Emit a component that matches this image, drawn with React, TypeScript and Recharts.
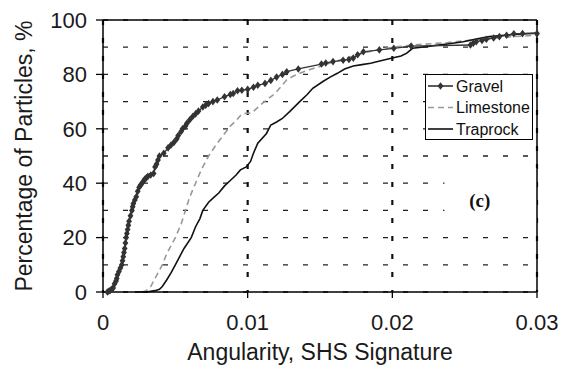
import { LineChart, Line, XAxis, YAxis, CartesianGrid, ReferenceLine, ReferenceArea, Legend } from 'recharts';

// x = SHS signature, y = cumulative percentage of particles
const xTicks = [0, 0.01, 0.02, 0.03];
const yTicks = [0, 10, 20, 30, 40, 50, 60, 70, 80, 90, 100];

const gravel: [number, number][] = [
  [0.0003, 0], [0.0004, 0.3], [0.0005, 0.6], [0.0006, 1], [0.0007, 1.5], [0.0008, 3], [0.0009, 4],
  [0.00095, 5], [0.001, 6.3], [0.0011, 7.5], [0.0012, 8.8], [0.0013, 10], [0.00135, 11.5], [0.0014, 13],
  [0.00145, 14.5], [0.0015, 16], [0.00155, 18], [0.0016, 20], [0.00165, 21.5], [0.0017, 23],
  [0.00175, 24.5], [0.0018, 26], [0.0019, 28], [0.002, 30], [0.00205, 31.3], [0.0021, 32.5],
  [0.0022, 33.8], [0.0023, 35], [0.0024, 37], [0.0025, 38.5], [0.0026, 39.3], [0.0027, 40],
  [0.0028, 40.8], [0.0029, 41.5], [0.003, 42], [0.0031, 42.5], [0.0033, 43], [0.0035, 43.6],
  [0.0036, 46], [0.0037, 47], [0.0038, 48.5], [0.0039, 50], [0.0042, 51], [0.0045, 53], [0.0047, 54],
  [0.0049, 55], [0.0051, 56.3], [0.0052, 57.5], [0.0054, 59], [0.0055, 60], [0.0057, 61], [0.0058, 62],
  [0.006, 63.3], [0.0062, 64.5], [0.0064, 65.5], [0.0066, 66.5], [0.0069, 68], [0.0071, 68.7],
  [0.0073, 69.3], [0.0076, 70], [0.0079, 70.6], [0.0084, 71.8], [0.0088, 72.6], [0.009, 73],
  [0.0093, 74], [0.0096, 74.2], [0.01, 74.5], [0.0104, 75.3], [0.0107, 76], [0.0112, 76.7],
  [0.0116, 77.8], [0.012, 79], [0.0124, 80], [0.0127, 81], [0.0135, 82], [0.0151, 83.8],
  [0.0154, 84.2], [0.0159, 84.7], [0.0166, 85.2], [0.017, 85.5], [0.0173, 86], [0.0176, 87.2],
  [0.018, 88.3], [0.0191, 89], [0.0201, 89.6], [0.0213, 90.4], [0.0254, 90.8], [0.0256, 91.5],
  [0.0258, 92], [0.0262, 92.5], [0.0265, 92.9], [0.027, 93.4], [0.0274, 93.9], [0.0279, 94.4],
  [0.0284, 94.9], [0.029, 95], [0.03, 95],
];

const limestone: [number, number][] = [
  [0.0027, 0], [0.003, 0.5], [0.0033, 2], [0.0036, 5], [0.0039, 8], [0.0041, 10], [0.0044, 14],
  [0.0047, 17], [0.005, 20], [0.0054, 25], [0.0057, 30], [0.006, 35], [0.0064, 40], [0.0068, 45],
  [0.0073, 50], [0.0078, 54], [0.0083, 57.5], [0.0088, 61], [0.0092, 63], [0.0096, 65.5],
  [0.0103, 65.9], [0.0109, 68.8], [0.0114, 71], [0.0119, 73], [0.0123, 75.5], [0.0127, 78],
  [0.0132, 79.5], [0.0136, 80.4], [0.0143, 81.8], [0.015, 82.9], [0.0157, 84.2], [0.0164, 85.3],
  [0.0175, 87], [0.0183, 88.2], [0.0191, 89.2], [0.0202, 90.1], [0.0214, 90.8], [0.0238, 91.7],
  [0.026, 92.9], [0.0284, 93.9], [0.03, 94.4],
];

const traprock: [number, number][] = [
  [0.0022, 0], [0.0031, 0.1], [0.0036, 0.5], [0.0039, 1], [0.0041, 2], [0.0044, 4.4], [0.0047, 7],
  [0.005, 10], [0.0053, 13], [0.0056, 16], [0.0061, 20], [0.0064, 24], [0.0067, 27], [0.0069, 30],
  [0.0073, 33], [0.0077, 35], [0.008, 36.4], [0.0084, 39], [0.0088, 41], [0.0092, 43], [0.0095, 44.9],
  [0.0099, 46], [0.0102, 48], [0.0104, 51], [0.0107, 54.7], [0.0113, 58.3], [0.0116, 61.4],
  [0.012, 62.5], [0.0124, 63.8], [0.0129, 66.3], [0.0136, 70], [0.0141, 72.5], [0.0145, 74.9],
  [0.0152, 77.4], [0.0157, 79], [0.0162, 80.4], [0.0167, 82], [0.0173, 83.1], [0.0179, 83.6],
  [0.0185, 84.1], [0.0192, 85], [0.02, 86], [0.0206, 86.8], [0.021, 87.8], [0.0214, 89.6],
  [0.0226, 90.4], [0.0238, 91.2], [0.0249, 92], [0.0258, 93], [0.0267, 93.9], [0.0284, 94.7],
  [0.0292, 95], [0.03, 95.2],
];

const seriesNames = ['Gravel', 'Limestone', 'Traprock'];

const toPoints = (rows: [number, number][]) => rows.map(([sig, pct]) => ({ sig, pct }));

const FONT = '"Liberation Sans", Arial, Helvetica, sans-serif';

const diamondPath = (cx: number, cy: number) =>
  `M${cx},${cy - 3.8}L${cx + 2.9},${cy}L${cx},${cy + 3.8}L${cx - 2.9},${cy}Z`;

function GravelDot(props: any) {
  const { cx, cy, index } = props;
  if (cx == null || cy == null) return <g key={`gd-${index}`} />;
  return <path key={`gd-${index}`} d={diamondPath(cx, cy)} fill="#333" />;
}

function LegendBox() {
  const rows = [
    { name: seriesNames[0], stroke: '#333', dash: undefined, marker: true },
    { name: seriesNames[1], stroke: '#999', dash: '6 4', marker: false },
    { name: seriesNames[2], stroke: '#111', dash: undefined, marker: false },
  ];
  return (
    <svg width={108} height={66} style={{ display: 'block' }}>
      <rect x={0.5} y={0.5} width={107} height={65} fill="#fff" stroke="#000" />
      {rows.map((r, i) => {
        const y = 12 + i * 21.5;
        return (
          <g key={r.name}>
            <line x1={3} x2={28} y1={y} y2={y} stroke={r.stroke} strokeWidth={1.6} strokeDasharray={r.dash} />
            {r.marker && <path d={diamondPath(15.5, y)} fill="#333" />}
            <text x={31} y={y + 5.5} fontFamily={FONT} fontSize={16} fill="#111">
              {r.name}
            </text>
          </g>
        );
      })}
    </svg>
  );
}

const axisTick = { fill: '#1a1a1a', fontFamily: FONT, fontSize: 22 };
const titleStyle = { fill: '#1a1a1a', fontFamily: FONT, fontSize: 23 };

export default function App() {
  return (
    <div style={{ position: 'absolute', left: 0, top: 0, background: '#fff' }}>
      <LineChart width={573} height={371} margin={{ top: 20, right: 36, left: 0, bottom: 0 }}>
        <CartesianGrid horizontal vertical={false} stroke="#222" strokeWidth={1.3} strokeDasharray="5 15" />
        <CartesianGrid horizontal={false} vertical stroke="#111" strokeWidth={2.2} strokeDasharray="5 13" />
        <XAxis
          dataKey="sig"
          type="number"
          domain={[0, 0.03]}
          ticks={xTicks}
          tickFormatter={(v: number) => (v === 0 ? '0' : String(v))}
          height={79}
          tickSize={6}
          tickMargin={16}
          axisLine={{ stroke: '#000', strokeWidth: 1.5 }}
          tickLine={{ stroke: '#000', strokeWidth: 1.3 }}
          tick={axisTick}
          label={{ value: 'Angularity, SHS Signature', position: 'insideBottom', offset: 11, style: titleStyle }}
        />
        <YAxis
          dataKey="pct"
          type="number"
          domain={[0, 100]}
          ticks={yTicks}
          width={103}
          tickSize={7}
          tickMargin={9}
          axisLine={{ stroke: '#000', strokeWidth: 1.5 }}
          tickLine={{ stroke: '#000', strokeWidth: 1.3 }}
          tick={axisTick}
          label={{ value: 'Percentage of Particles, %', angle: -90, position: 'insideLeft', offset: 24, style: { ...titleStyle, textAnchor: 'middle' } }}
        />
        <ReferenceArea
          x1={0.0236}
          x2={0.03}
          y1={24.6}
          y2={45.6}
          fill="#fff"
          fillOpacity={1}
          stroke="none"
          label={{ value: '(c)', position: 'center', dx: -11, dy: 4, style: { fill: '#111', fontFamily: '"Liberation Serif", "Times New Roman", serif', fontWeight: 'bold', fontSize: 19 } }}
        />
        <ReferenceLine y={100} stroke="#000" strokeWidth={1.5} />
        <ReferenceLine x={0.03} stroke="#000" strokeWidth={1.5} />
        <Line
          data={toPoints(limestone)}
          dataKey="pct"
          name={seriesNames[1]}
          type="linear"
          stroke="#999"
          strokeWidth={1.6}
          strokeDasharray="6 4"
          dot={false}
          isAnimationActive={false}
        />
        <Line
          data={toPoints(traprock)}
          dataKey="pct"
          name={seriesNames[2]}
          type="linear"
          stroke="#111"
          strokeWidth={1.6}
          dot={false}
          isAnimationActive={false}
        />
        <Line
          data={toPoints(gravel)}
          dataKey="pct"
          name={seriesNames[0]}
          type="linear"
          stroke="#333"
          strokeWidth={1.3}
          dot={(p: any) => <GravelDot key={`gd-${p.index}`} {...p} />}
          activeDot={false}
          isAnimationActive={false}
        />
        <Legend
          layout="vertical"
          align="center"
          verticalAlign="middle"
          content={() => <LegendBox />}
          wrapperStyle={{ position: 'absolute', left: 425, top: 74, width: 108, height: 66 }}
        />
      </LineChart>
    </div>
  );
}
